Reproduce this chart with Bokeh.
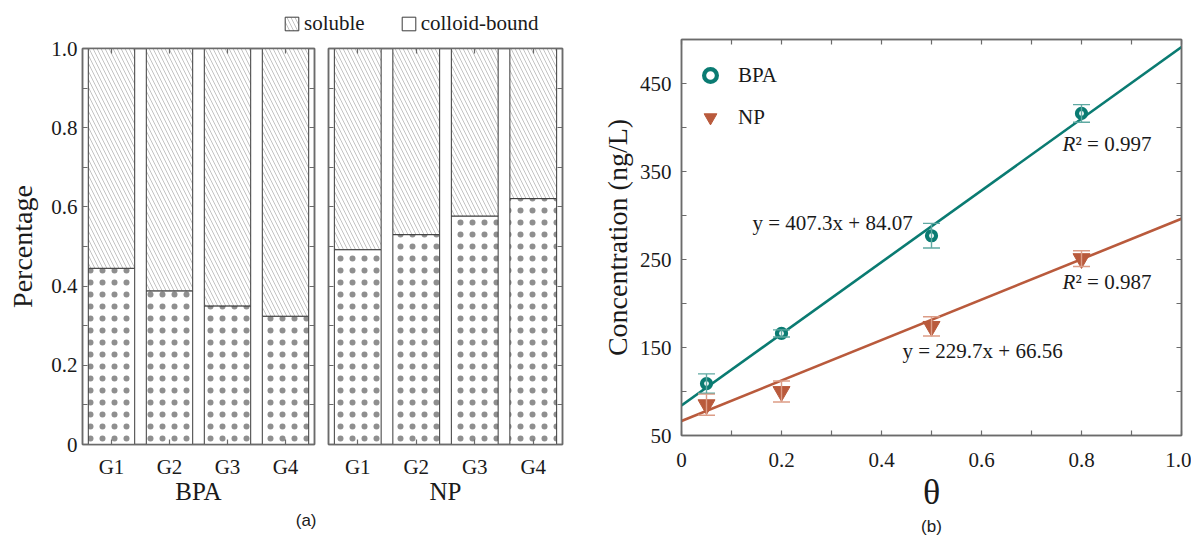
from bokeh.plotting import figure
from bokeh.models import (ColumnDataSource, Whisker, TeeHead, Legend, LegendItem, Label, Title,
                          LinearAxis, CategoricalAxis, FixedTicker, Range1d, FactorRange,
                          CustomLabelingPolicy)
from bokeh.layouts import row, column
from bokeh.embed import file_html
from bokeh.resources import INLINE

# ---------------- data ----------------
groups = ["G1", "G2", "G3", "G4"]
bpa_colloid = [0.445, 0.388, 0.350, 0.324]
np_colloid = [0.492, 0.530, 0.577, 0.621]

theta = [0.05, 0.2, 0.5, 0.8]
bpa_conc = [109, 166, 277, 416]
bpa_err = [11, 4, 14, 10]
np_conc = [85, 100, 174, 251]
np_err = [12, 12, 11, 9]
bpa_fit = [407.3, 84.07]   # slope, intercept
np_fit = [229.7, 66.56]
fit_x = [0.0, 1.0]

pct_ticks = [0, 0.2, 0.4, 0.6, 0.8, 1.0]
pct_minor = [0.1, 0.3, 0.5, 0.7, 0.9]
pct_labels = ["0", "0.2", "0.4", "0.6", "0.8", "1.0"]
theta_ticks = [0, 0.2, 0.4, 0.6, 0.8, 1.0]
theta_minor = [0.1, 0.3, 0.5, 0.7, 0.9]
theta_labels = ["0", "0.2", "0.4", "0.6", "0.8", "1.0"]
conc_ticks = [50, 150, 250, 350, 450]
conc_minor = [100, 200, 300, 400, 500]

SERIF = "Liberation Serif"
FRAME = "#6b6b6b"
TEXT = "#1a1a1a"
TEAL = "#0a7b72"
RUST = "#b95a3c"
TEAL_L = "#5fa9a2"
RUST_L = "#dc9c86"

colloid_style = dict(fill_color="white", line_color="#3a3a3a", line_width=1,
                     hatch_pattern="dot", hatch_scale=12, hatch_color="#333333",
                     hatch_alpha=0.55, hatch_weight=0.2)
soluble_style = dict(fill_color="white", line_color="#3a3a3a", line_width=1,
                     hatch_pattern="\\", hatch_scale=8, hatch_color="#9a9a9a", hatch_weight=0.6)


def no_labels():
    return CustomLabelingPolicy(code="for (const i of indices) { indices.unset(i) } return indices")


def style_axis(ax, labels=True, size="21px"):
    ax.axis_line_color = FRAME
    ax.axis_line_width = 1.5
    ax.major_tick_in = 5
    ax.major_tick_out = 0
    ax.minor_tick_in = 5
    ax.minor_tick_out = 0
    ax.major_tick_line_color = FRAME
    ax.minor_tick_line_color = FRAME
    ax.major_tick_line_width = 1.2
    ax.minor_tick_line_width = 1.2
    ax.major_label_text_font = SERIF
    ax.major_label_text_color = TEXT
    ax.axis_label_text_font = SERIF
    ax.axis_label_text_font_style = "normal"
    ax.axis_label_text_color = TEXT
    if labels:
        ax.major_label_text_font_size = size
    else:
        ax.major_label_text_font_size = "1px"
        ax.major_label_standoff = 0
        ax.major_label_policy = no_labels()


def bar_panel(name, colloid, left, right, ylabels):
    src = ColumnDataSource(dict(g=groups, c=colloid, one=[1.0] * len(groups)))
    p = figure(x_range=FactorRange(*groups), y_range=Range1d(0, 1),
               frame_width=232 if ylabels else 234, frame_height=396,
               min_border_left=left, min_border_right=right, min_border_top=12, min_border_bottom=92,
               output_backend="svg", toolbar_location=None,
               background_fill_color="white", border_fill_color="white")
    p.grid.visible = False
    p.outline_line_color = FRAME
    p.outline_line_width = 1.5
    p.vbar(x="g", bottom=0, top="c", width=0.8, source=src, **colloid_style)
    p.vbar(x="g", bottom="c", top="one", width=0.8, source=src, **soluble_style)
    p.yaxis.ticker = FixedTicker(ticks=pct_ticks, minor_ticks=pct_minor)
    p.yaxis.major_label_overrides = dict(zip(pct_ticks, pct_labels))
    style_axis(p.yaxis[0], labels=ylabels)
    if ylabels:
        p.yaxis.axis_label = "Percentage"
        p.yaxis.axis_label_text_font_size = "28px"
        p.yaxis.axis_label_standoff = 10
    style_axis(p.xaxis[0])
    p.xaxis.axis_label = name
    p.xaxis.axis_label_text_font_size = "25px"
    p.xaxis.axis_label_standoff = -4
    p.xaxis.major_label_standoff = 10
    top = CategoricalAxis()
    style_axis(top, labels=False)
    p.add_layout(top, "above")
    rax = LinearAxis(ticker=FixedTicker(ticks=pct_ticks, minor_ticks=pct_minor))
    style_axis(rax, labels=False)
    p.add_layout(rax, "right")
    return p, src


f1, src1 = bar_panel("BPA", bpa_colloid, 82, 8, True)
f2, src2 = bar_panel("NP", np_colloid, 6, 10, False)
f1.add_layout(Title(text="(a)", align="right", text_font="Liberation Sans", text_font_size="17px",
                    text_font_style="normal", text_color=TEXT, offset=-2, standoff=2), "below")

# legend strip for panel (a)
leg = figure(x_range=FactorRange(*groups), y_range=Range1d(2, 3), width=572, height=36,
             min_border=0, x_axis_location=None, y_axis_location=None,
             output_backend="svg", toolbar_location=None)
leg.grid.visible = False
leg.outline_line_color = None
ls = leg.vbar(x="g", bottom="c", top="one", width=0.8, source=src1, **soluble_style)
lc = leg.vbar(x="g", bottom=0, top="c", width=0.8, source=src1,
              **dict(colloid_style, hatch_pattern="blank"))
strip_legend = Legend(items=[LegendItem(label="soluble", renderers=[ls]),
                             LegendItem(label="colloid-bound", renderers=[lc])],
                      orientation="horizontal", location=(283, 0), padding=0, margin=0,
                      spacing=35, glyph_width=17, glyph_height=17, label_standoff=4,
                      label_text_font=SERIF, label_text_font_size="21px", label_text_color=TEXT,
                      border_line_color=None, background_fill_alpha=0)
leg.add_layout(strip_legend)

# ---------------- panel (b) ----------------
f3 = figure(x_range=Range1d(0, 1), y_range=Range1d(50, 500), frame_width=500, frame_height=396,
            min_border_left=109, min_border_right=10, min_border_top=39, min_border_bottom=101,
            output_backend="svg", toolbar_location=None,
            background_fill_color="white", border_fill_color="white")
f3.grid.visible = False
f3.outline_line_color = FRAME
f3.outline_line_width = 1.5

bsrc = ColumnDataSource(dict(x=theta, y=bpa_conc,
                             lo=[v - e for v, e in zip(bpa_conc, bpa_err)],
                             hi=[v + e for v, e in zip(bpa_conc, bpa_err)]))
nsrc = ColumnDataSource(dict(x=theta, y=np_conc,
                             lo=[v - e for v, e in zip(np_conc, np_err)],
                             hi=[v + e for v, e in zip(np_conc, np_err)]))

f3.line(fit_x, [bpa_fit[0] * x + bpa_fit[1] for x in fit_x], line_color=TEAL, line_width=2.6)
f3.line(fit_x, [np_fit[0] * x + np_fit[1] for x in fit_x], line_color=RUST, line_width=2.6)

for s, c in ((bsrc, TEAL_L), (nsrc, RUST_L)):
    w = Whisker(base="x", upper="hi", lower="lo", source=s, line_color=c, line_width=1.4,
                upper_head=TeeHead(size=17, line_color=c, line_width=1.4),
                lower_head=TeeHead(size=17, line_color=c, line_width=1.4), level="glyph")
    f3.add_layout(w)

rb = f3.scatter("x", "y", source=bsrc, marker="circle", size=9, line_width=4.2,
                line_color=TEAL, fill_color="white")
rn = f3.scatter("x", "y", source=nsrc, marker="inverted_triangle", size=17,
                line_color=RUST, fill_color=RUST)

f3.xaxis.ticker = FixedTicker(ticks=theta_ticks, minor_ticks=theta_minor)
f3.xaxis.major_label_overrides = dict(zip(theta_ticks, theta_labels))
style_axis(f3.xaxis[0])
f3.xaxis.major_label_standoff = 17
f3.xaxis.axis_label = "θ"
f3.xaxis.axis_label_text_font_size = "36px"
f3.xaxis.axis_label_standoff = 2
f3.yaxis.ticker = FixedTicker(ticks=conc_ticks, minor_ticks=conc_minor)
style_axis(f3.yaxis[0])
f3.yaxis.major_label_standoff = 10
f3.yaxis.axis_label = "Concentration (ng/L)"
f3.yaxis.axis_label_text_font_size = "28px"
f3.yaxis.axis_label_standoff = 4

top3 = LinearAxis(ticker=FixedTicker(ticks=theta_ticks, minor_ticks=theta_minor))
style_axis(top3, labels=False)
f3.add_layout(top3, "above")
right3 = LinearAxis(ticker=FixedTicker(ticks=conc_ticks, minor_ticks=conc_minor))
style_axis(right3, labels=False)
f3.add_layout(right3, "right")

leg3 = Legend(items=[LegendItem(label="BPA", renderers=[rb]), LegendItem(label="NP", renderers=[rn])],
              location=(13, 302), padding=0, margin=0, spacing=10, glyph_width=32, glyph_height=32,
              label_standoff=12, label_text_font=SERIF, label_text_font_size="21px",
              label_text_color=TEXT, border_line_color=None, background_fill_alpha=0)
f3.add_layout(leg3)


def add_text(p, x, y, text, style="normal", x_offset=0, size="21px"):
    p.add_layout(Label(x=x, y=y, text=text, text_font=SERIF, text_font_size=size,
                       text_font_style=style, text_color=TEXT, text_baseline="middle",
                       text_align="left", x_offset=x_offset))


add_text(f3, 0.142, 291, "y = 407.3x + 84.07")
add_text(f3, 0.442, 146, "y = 229.7x + 66.56")
add_text(f3, 0.762, 381, "R", style="italic")
add_text(f3, 0.762, 381, "² = 0.997", x_offset=13)
add_text(f3, 0.762, 224, "R", style="italic")
add_text(f3, 0.762, 224, "² = 0.987", x_offset=13)

f3.add_layout(Title(text="(b)", align="center", text_font="Liberation Sans", text_font_size="17px",
                    text_font_style="normal", text_color=TEXT, standoff=0), "below")

layout = row(column(leg, row(f1, f2)), f3)
open("out.html", "w").write(file_html(layout, INLINE))
